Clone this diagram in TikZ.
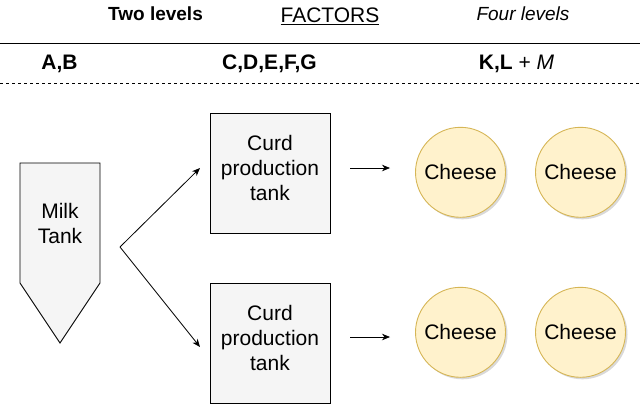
\documentclass[tikz,border=0pt]{standalone}
\usepackage{fontspec}
\setmainfont{Liberation Sans}
\usetikzlibrary{arrows.meta,shadows}
\definecolor{tankfill}{HTML}{F5F5F5}
\definecolor{cheesefill}{HTML}{FFF2CC}
\definecolor{cheesedraw}{HTML}{D6B656}
\tikzset{
  hdr/.style={anchor=base, inner sep=0pt, font=\fontsize{19}{23}\selectfont},
  hdrbig/.style={anchor=base, inner sep=0pt, font=\fontsize{21}{25}\selectfont},
  boxtext/.style={align=center, inner sep=0pt, font=\fontsize{21}{25}\selectfont},
  curdbox/.style={draw=black, line width=0.9pt, fill=tankfill, minimum width=120pt, minimum height=120pt, inner sep=0pt},
  cheese/.style={circle, draw=cheesedraw, line width=0.9pt, fill=cheesefill, minimum size=90pt, inner sep=0pt,
    font=\fontsize{21}{25}\selectfont,
    drop shadow={shadow xshift=2pt, shadow yshift=-2pt, fill=black!25, opacity=0.6}},
  flow/.style={-{Stealth[length=8pt,width=6.5pt,inset=2.5pt]}, line width=0.8pt},
}
\begin{document}
\begin{tikzpicture}[x=1pt,y=-1pt]
\useasboundingbox (0,0) rectangle (642,404);
% headers
\node[hdr] (two) at (155.5,21) {\textbf{Two levels}};
\node[hdrbig] (fac) at (330,22.5) {\underline{FACTORS}};
\node[hdr] (four) at (523,21) {\textit{Four levels}};
\coordinate (solidL) at (0,43.5);
\coordinate (solidR) at (640,43.5);
\draw[line width=1.2pt] (solidL) -- (solidR);
\node[hdrbig] (ab) at (59.5,70) {\textbf{A,B}};
\node[hdrbig] (cg) at (269.5,70) {\textbf{C,D,E,F,G}};
\node[hdrbig] (kl) at (516.5,70) {\textbf{K,L} + \textit{M}};
\coordinate (dashL) at (0,83);
\coordinate (dashR) at (642,83);
\draw[line width=0.8pt, dash pattern=on 3pt off 3pt] (dashL) -- (dashR);
% milk tank
\draw[line width=0.9pt, fill=tankfill] (20,163) -- (100,163) -- (100,283) -- (60,343) -- (20,283) -- cycle;
\node[boxtext] (milk) at (60,223) {Milk\\Tank};
% curd boxes
\node[curdbox] (curd1) at (270,173) {};
\node[boxtext] (curd1t) at (270,167.6) {Curd\\production\\tank};
\node[curdbox] (curd2) at (270,343) {};
\node[boxtext] (curd2t) at (270,337.6) {Curd\\production\\tank};
% split arrows
\coordinate (split) at (120,247);
\coordinate (in1) at (200,168);
\coordinate (in2) at (200,347);
\draw[flow] (split) -- (in1);
\draw[flow] (split) -- (in2);
% arrows to cheese
\coordinate (o1s) at (350,168);
\coordinate (o1e) at (390,168);
\coordinate (o2s) at (350,337);
\coordinate (o2e) at (390,337);
\draw[flow] (o1s) -- (o1e);
\draw[flow] (o2s) -- (o2e);
% cheeses
\node[cheese] (ch1) at (460.5,172.3) {Cheese};
\node[cheese] (ch2) at (580.5,172.3) {Cheese};
\node[cheese] (ch3) at (460.5,332.3) {Cheese};
\node[cheese] (ch4) at (580.5,332.3) {Cheese};
\end{tikzpicture}
\end{document}
